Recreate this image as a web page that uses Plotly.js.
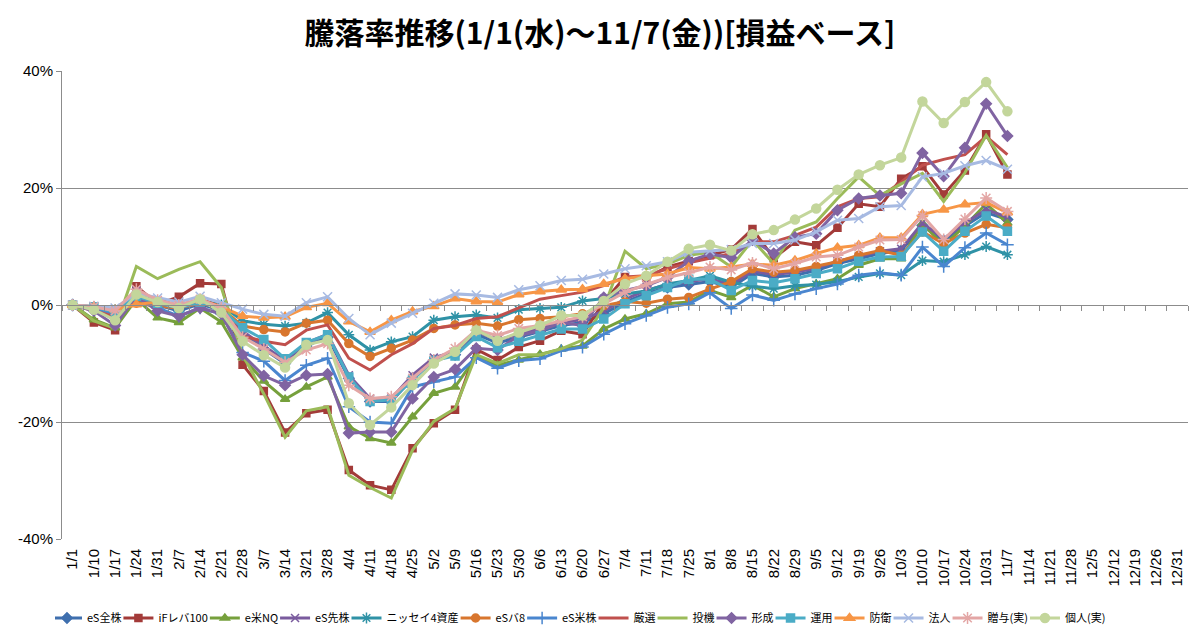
<!DOCTYPE html>
<html>
<head>
<meta charset="utf-8">
<script src="https://cdn.plot.ly/plotly-3.0.1.min.js"></script>
<style>
  html, body { margin: 0; padding: 0; background: #fff; }
  #chart { width: 1200px; height: 637px; outline: 1px solid #8c8c8c; outline-offset: -1px; }
</style>
</head>
<body>
<div id="chart"></div>
<script>
// category labels (weekly, 1/1 .. 12/31)
const categories = ['1/1','1/10','1/17','1/24','1/31','2/7','2/14','2/21','2/28','3/7','3/14','3/21','3/28',
  '4/4','4/11','4/18','4/25','5/2','5/9','5/16','5/23','5/30','6/6','6/13','6/20','6/27','7/4','7/11','7/18',
  '7/25','8/1','8/8','8/15','8/22','8/29','9/5','9/12','9/19','9/26','10/3','10/10','10/17','10/24','10/31',
  '11/7','11/14','11/21','11/28','12/5','12/12','12/19','12/26','12/31'];

const yTicks = [-40, -20, 0, 20, 40];

// return rate (%) per week; data stops at 11/7
const esZenkabu = [0,-0.5,-1.5,1.0,0,-1.0,0.2,-1.0,-5.0,-7.5,-10.0,-7.0,-5.5,-12.5,-16.5,-16.5,-12.5,-9.5,-8.5,-5.0,-6.5,-5.5,-4.5,-3.5,-3.0,-1.5,0.5,2.0,3.0,3.5,4.0,3.0,5.4,4.8,5.1,5.9,7.1,7.9,8.8,9.3,13.6,11.0,13.5,15.8,14.6];
const ifLev100 = [0,-3.0,-4.3,3.2,0.2,1.4,3.7,3.6,-10.2,-14.7,-21.8,-18.5,-17.9,-28.2,-30.8,-31.6,-24.5,-20.2,-17.9,-7.6,-9.4,-7.2,-6.1,-4.4,-5.0,0.5,4.8,4.6,6.5,7.5,8.5,9.5,13.0,8.0,10.8,10.2,13.2,17.3,16.8,21.6,23.7,18.9,23.0,29.2,22.3];
const eBeiNQ = [0,-2.5,-3.9,1.0,-2.2,-3.0,-0.5,-2.9,-9.0,-13.0,-16.1,-14.0,-12.3,-20.8,-22.8,-23.6,-19.1,-15.1,-14.0,-8.8,-10.3,-9.4,-8.4,-7.5,-7.0,-4.1,-2.4,-1.5,0.2,0.5,2.5,1.3,3.4,1.4,2.8,3.6,4.5,6.8,7.9,7.9,13.9,10.2,13.5,17.3,14.0];
const esSenkabu = [0,-0.5,-1.3,2.5,0.5,-0.3,0.8,-0.5,-4.5,-7.0,-9.5,-6.5,-5.0,-12.0,-16.0,-16.0,-12.0,-9.0,-8.0,-4.5,-6.0,-5.0,-4.0,-3.0,-2.5,-1.0,1.0,2.5,3.5,4.0,4.5,3.5,5.8,5.2,5.6,6.3,7.5,8.3,9.2,9.6,14.0,11.3,14.0,16.3,15.0];
const nissei4 = [0,-0.3,-0.8,1.0,0.5,0,0.8,0,-2.7,-3.3,-3.6,-3.1,-1.3,-5.1,-7.7,-6.3,-5.4,-2.6,-2.0,-1.7,-2.2,-0.8,-0.6,-0.4,0.7,1.1,1.9,2.4,3.6,4.2,5.0,3.9,3.2,2.8,3.3,3.5,4.0,4.8,5.4,5.1,7.6,7.4,8.6,10.0,8.6];
const esBal8 = [0,-0.5,-1.0,0.3,-0.2,-0.5,0.3,-0.5,-3.6,-4.2,-4.6,-3.1,-2.6,-6.6,-8.8,-7.4,-6.0,-4.0,-3.4,-3.1,-3.6,-2.5,-2.3,-2.0,-1.5,-0.1,0.6,0.3,1.0,1.3,2.7,4.0,6.2,5.6,5.9,6.6,7.4,8.5,9.3,8.5,12.5,10.5,12.3,13.8,13.2];
const esBeikabu = [0,-0.5,-1.5,1.2,-0.5,-1.9,-0.5,-1.5,-8.1,-9.6,-12.9,-10.3,-9.1,-17.4,-20.0,-20.2,-14.0,-13.1,-12.3,-9.0,-10.8,-9.5,-9.2,-7.8,-7.2,-5.0,-3.2,-1.8,-0.4,0.2,2.1,-0.6,1.7,0.8,1.9,2.8,3.6,5.1,5.5,5.1,9.9,6.6,9.8,12.3,10.3];
const gensen = [0,-1.0,-2.0,1.5,0.3,-0.5,1.0,-0.3,-5.3,-6.2,-6.8,-4.3,-3.4,-9.1,-11.1,-8.5,-6.6,-4.0,-3.5,-2.3,-2.0,-0.5,1.0,1.6,2.2,3.3,4.8,5.0,6.2,7.2,8.0,8.8,10.8,10.8,11.9,13.3,16.8,18.2,18.5,21.0,23.9,24.9,25.7,28.8,25.7];
const toki = [0,-2.7,-4.0,6.6,4.5,6.1,7.4,3.0,-8.5,-15.2,-22.6,-18.1,-17.4,-29.1,-31.2,-33.0,-24.8,-19.9,-17.7,-8.5,-10.0,-8.5,-8.5,-7.5,-6.0,-0.5,9.2,6.2,7.0,8.5,9.0,6.5,11.1,7.1,12.8,14.2,18.2,21.9,18.7,20.7,22.5,17.7,22.6,29.0,23.5];
const keisei = [0,-1.0,-3.5,1.5,-1.0,-1.9,-0.5,-1.5,-8.5,-12.1,-13.7,-12.0,-11.8,-21.9,-21.7,-21.7,-16.0,-12.3,-11.0,-7.4,-7.7,-5.2,-4.4,-3.0,-3.5,1.3,2.5,3.3,4.7,7.5,8.7,8.1,11.1,8.8,11.6,12.2,16.2,18.2,18.7,19.1,26.0,22.0,26.9,34.4,28.9];
const unyo = [0,-0.3,-1.2,1.5,0.3,-0.5,0.5,-0.8,-3.9,-5.9,-9.2,-6.4,-5.1,-12.3,-16.5,-16.2,-12.8,-9.5,-8.7,-5.4,-7.3,-6.2,-5.2,-4.1,-4.1,-2.4,0.2,1.6,3.0,4.4,4.4,2.5,4.2,3.8,4.5,5.4,6.2,7.5,8.2,8.3,12.5,9.2,12.6,15.2,12.6];
const boei = [0,-0.3,-0.8,0.1,0.5,0,0.8,-0.3,-1.9,-2.2,-2.0,-0.4,0.3,-2.8,-4.6,-2.6,-1.1,-0.2,1.1,0.6,0.5,1.8,2.3,2.6,2.7,3.6,4.5,5.0,5.3,6.4,6.2,6.5,7.0,6.8,7.6,8.8,9.8,10.2,11.5,11.5,15.5,16.3,17.2,17.5,15.8];
const hojin = [0,-0.2,-0.5,2.0,1.2,0.5,1.5,0.4,-0.7,-1.6,-1.9,0.4,1.4,-2.3,-5.1,-3.1,-1.4,0.3,1.9,1.7,1.3,2.6,3.3,4.2,4.4,5.3,6.2,6.7,7.4,9.0,9.3,9.5,10.5,10.5,11.1,12.5,14.5,14.8,16.8,17.0,21.9,22.5,23.8,24.7,23.2];
const zoyo = [0,-0.3,-1.0,2.7,0.8,0,1.0,-0.5,-5.5,-7.5,-9.8,-7.7,-6.6,-13.7,-16.0,-15.7,-12.5,-9.4,-7.4,-4.3,-5.2,-4.0,-3.5,-2.7,-2.0,0.2,2.2,3.5,4.7,5.5,6.5,6.0,7.2,6.2,7.1,8.2,8.5,9.9,11.1,11.2,15.3,11.2,14.7,18.3,16.0];
const kojin = [0,-0.8,-2.6,1.8,0.5,-0.5,1.0,-1.3,-6.2,-8.6,-10.7,-6.8,-6.0,-16.8,-20.5,-17.5,-13.7,-10.0,-8.0,-4.3,-6.1,-4.7,-3.5,-1.8,-1.8,0.7,3.6,5.0,7.4,9.6,10.3,9.3,12.1,12.8,14.6,16.5,19.7,22.3,23.9,25.2,34.8,31.1,34.7,38.1,33.1];

const seriesNames = ['eS全株','iFレバ100','e米NQ','eS先株','ニッセイ4資産','eSバ8','eS米株','厳選','投機','形成','運用','防衛','法人','贈与(実)','個人(実)'];
const seriesValues = [esZenkabu, ifLev100, eBeiNQ, esSenkabu, nissei4, esBal8, esBeikabu, gensen, toki, keisei, unyo, boei, hojin, zoyo, kojin];

// Excel-like look for each series: [line colour, marker symbol, marker size]
const styles = [
  ['#3F6FAE', 'diamond', 8],
  ['#A33B39', 'square', 7],
  ['#76A03C', 'triangle-up', 8],
  ['#7A5B9E', 'x-thin-open', 8],
  ['#2F92A6', 'asterisk-open', 9],
  ['#D8762E', 'circle', 8],
  ['#4A86CF', 'cross-thin-open', 9],
  ['#C0504D', null, 0],
  ['#9BBB59', null, 0],
  ['#8064A2', 'diamond', 8],
  ['#4BACC6', 'square', 8],
  ['#F79646', 'triangle-up', 9],
  ['#A7BAE2', 'x-thin-open', 9],
  ['#E3A6A5', 'asterisk-open', 10],
  ['#C3D69B', 'circle', 9]
];

const catIdx = categories.map((c, i) => i);

const traces = seriesValues.map((vals, k) => {
  const [color, symbol, size] = styles[k];
  const t = {
    type: 'scatter',
    name: seriesNames[k],
    x: vals.map((v, i) => i),
    y: vals,
    mode: symbol ? 'lines+markers' : 'lines',
    line: { color: color, width: 3 },
    hovertemplate: '%{text}: %{y:.1f}%<extra>' + seriesNames[k] + '</extra>',
    text: vals.map((v, i) => categories[i])
  };
  if (symbol) {
    t.marker = { symbol: symbol, size: size, color: color, line: { color: color, width: 1.5 } };
  }
  return t;
});

// helper trace so the crossing axis (at 0%) with its category tick marks is drawn
traces.push({
  type: 'scatter', x: catIdx, y: catIdx.map(() => null), xaxis: 'x2', yaxis: 'y',
  mode: 'lines', showlegend: false, hoverinfo: 'skip'
});

const gray = '#8c8c8c';

const layout = {
  width: 1200,
  height: 637,
  paper_bgcolor: '#fff',
  plot_bgcolor: '#fff',
  margin: { l: 62, r: 12, t: 71, b: 98 },
  font: { family: 'Liberation Sans, Arial, sans-serif', color: '#000' },
  title: {
    text: '<b>騰落率推移(1/1(水)～11/7(金))[損益ベース]</b>',
    font: { family: 'Noto Sans CJK JP, sans-serif', size: 30, color: '#000' },
    x: 0.5, xanchor: 'center', xref: 'container',
    y: 1 - 33 / 637, yanchor: 'middle', yref: 'container'
  },
  xaxis: {
    type: 'linear',
    range: [-0.5, categories.length - 0.5],
    tickvals: catIdx,
    ticktext: categories,
    tickangle: -90,
    tickfont: { size: 15 },
    ticks: '',
    ticklabelstandoff: 6,
    showline: false,
    showgrid: false,
    zeroline: false,
    fixedrange: true
  },
  xaxis2: {
    type: 'linear',
    overlaying: 'x',
    anchor: 'free',
    position: 0.5,
    side: 'bottom',
    range: [-0.5, categories.length - 0.5],
    tickvals: catIdx.map(i => i - 0.5).concat([categories.length - 0.5]),
    showticklabels: false,
    ticks: 'outside',
    ticklen: 5,
    tickcolor: gray,
    tickwidth: 1,
    showline: true,
    linecolor: gray,
    linewidth: 1,
    showgrid: false,
    zeroline: false,
    fixedrange: true
  },
  yaxis: {
    range: [-40, 40],
    tickvals: yTicks,
    ticktext: yTicks.map(v => v + '%'),
    tickfont: { size: 15 },
    ticks: 'outside',
    ticklen: 5,
    tickcolor: gray,
    showline: true,
    linecolor: gray,
    linewidth: 1,
    showgrid: true,
    gridcolor: gray,
    gridwidth: 1,
    zeroline: false,
    fixedrange: true
  },
  showlegend: true,
  legend: {
    orientation: 'h',
    xref: 'container', yref: 'container',
    x: 55 / 1200, xanchor: 'left',
    y: 1 - 618 / 637, yanchor: 'middle',
    font: { family: 'Noto Sans CJK JP, sans-serif', size: 11, color: '#000' },
    itemwidth: 30,
    indentation: -8,
    tracegroupgap: 0,
    bgcolor: 'rgba(0,0,0,0)'
  }
};

Plotly.newPlot('chart', traces, layout, { staticPlot: true, displayModeBar: false });
</script>
</body>
</html>
